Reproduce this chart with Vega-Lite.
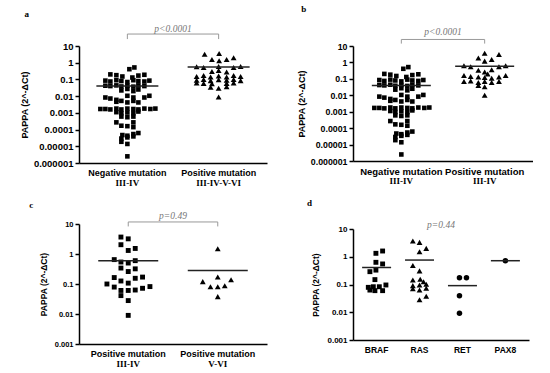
{
  "$schema": "https://vega.github.io/schema/vega-lite/v6.json",
  "background": "white",
  "padding": {"left": 20, "top": 4, "right": 0, "bottom": 0},
  "config": {
    "view": {"stroke": null},
    "axis": {"grid": false, "domainColor": "#000", "domainWidth": 1.5, "tickColor": "#000", "tickWidth": 1.5, "labelFont": "Liberation Sans", "labelFontWeight": "bold", "labelColor": "#000", "titleFont": "Liberation Sans", "titleFontWeight": "bold", "titleColor": "#000", "labelOverlap": false},
    "title": {"font": "Liberation Serif", "fontWeight": "bold", "fontSize": 9, "anchor": "start", "color": "#000"}
  },
  "datasets": {
    "neg": [
      {"g":"g1","j":2,"v":0.41},{"g":"g1","j":7,"v":0.52},
      {"g":"g1","j":-17,"v":0.2},{"g":"g1","j":-11,"v":0.18},{"g":"g1","j":-5,"v":0.15},{"g":"g1","j":5,"v":0.13},{"g":"g1","j":11,"v":0.17},{"g":"g1","j":17,"v":0.19},
      {"g":"g1","j":-22,"v":0.085},{"g":"g1","j":-17,"v":0.075},{"g":"g1","j":-11,"v":0.09},{"g":"g1","j":-6,"v":0.08},{"g":"g1","j":0,"v":0.07},{"g":"g1","j":6,"v":0.09},{"g":"g1","j":11,"v":0.08},{"g":"g1","j":17,"v":0.075},{"g":"g1","j":22,"v":0.085},
      {"g":"g1","j":-22,"v":0.042},{"g":"g1","j":-17,"v":0.04},{"g":"g1","j":-11,"v":0.044},{"g":"g1","j":-6,"v":0.038},{"g":"g1","j":0,"v":0.042},{"g":"g1","j":6,"v":0.037},{"g":"g1","j":11,"v":0.044},{"g":"g1","j":17,"v":0.04},
      {"g":"g1","j":-6,"v":0.022},{"g":"g1","j":0,"v":0.027},{"g":"g1","j":6,"v":0.02},{"g":"g1","j":11,"v":0.025},
      {"g":"g1","j":-22,"v":0.0083},{"g":"g1","j":-17,"v":0.0072},{"g":"g1","j":-11,"v":0.006},{"g":"g1","j":0,"v":0.0105},{"g":"g1","j":6,"v":0.0083},{"g":"g1","j":17,"v":0.0083},{"g":"g1","j":22,"v":0.0105},
      {"g":"g1","j":-11,"v":0.0046},{"g":"g1","j":-6,"v":0.0052},{"g":"g1","j":0,"v":0.0042},{"g":"g1","j":6,"v":0.0052},{"g":"g1","j":11,"v":0.0042},
      {"g":"g1","j":-27,"v":0.0017},{"g":"g1","j":-22,"v":0.0017},{"g":"g1","j":-17,"v":0.0016},{"g":"g1","j":-11,"v":0.0018},{"g":"g1","j":-6,"v":0.0016},{"g":"g1","j":0,"v":0.0018},{"g":"g1","j":6,"v":0.0017},{"g":"g1","j":11,"v":0.0016},{"g":"g1","j":17,"v":0.0018},{"g":"g1","j":23,"v":0.0017},{"g":"g1","j":28,"v":0.0018},
      {"g":"g1","j":-11,"v":0.0011},{"g":"g1","j":-6,"v":0.00095},{"g":"g1","j":0,"v":0.00105},{"g":"g1","j":6,"v":0.00095},{"g":"g1","j":11,"v":0.0012},
      {"g":"g1","j":-6,"v":0.0006},{"g":"g1","j":0,"v":0.00055},{"g":"g1","j":6,"v":0.0006},
      {"g":"g1","j":-11,"v":0.00027},{"g":"g1","j":6,"v":0.00027},
      {"g":"g1","j":-6,"v":0.00017},{"g":"g1","j":0,"v":0.00016},{"g":"g1","j":6,"v":0.00014},
      {"g":"g1","j":-5,"v":0.000047},{"g":"g1","j":0,"v":0.000043},{"g":"g1","j":6,"v":0.000054},{"g":"g1","j":11,"v":0.000062},
      {"g":"g1","j":-6,"v":0.000029},{"g":"g1","j":0,"v":0.000034},{"g":"g1","j":6,"v":0.000039},
      {"g":"g1","j":-6,"v":0.0000186},{"g":"g1","j":0,"v":0.0000138},
      {"g":"g1","j":0,"v":0.0000025}
    ],
    "apos": [
      {"g":"g2","j":-14,"v":3.2},{"g":"g2","j":0.5,"v":3.6},{"g":"g2","j":-6.7,"v":1.55},{"g":"g2","j":0.5,"v":1.3},{"g":"g2","j":8,"v":1.55},{"g":"g2","j":15,"v":2.0},
      {"g":"g2","j":-22,"v":0.58},{"g":"g2","j":-15,"v":0.52},{"g":"g2","j":0,"v":0.6},{"g":"g2","j":15,"v":0.52},{"g":"g2","j":22,"v":0.6},
      {"g":"g2","j":-6.7,"v":0.3},{"g":"g2","j":0,"v":0.34},{"g":"g2","j":8,"v":0.28},
      {"g":"g2","j":-22,"v":0.15},{"g":"g2","j":-15,"v":0.17},{"g":"g2","j":-8,"v":0.14},{"g":"g2","j":0,"v":0.16},{"g":"g2","j":8,"v":0.14},{"g":"g2","j":15,"v":0.17},{"g":"g2","j":22,"v":0.15},
      {"g":"g2","j":-22,"v":0.09},{"g":"g2","j":-15,"v":0.1},{"g":"g2","j":-8,"v":0.085},{"g":"g2","j":0,"v":0.095},{"g":"g2","j":8,"v":0.09},{"g":"g2","j":15,"v":0.1},{"g":"g2","j":22,"v":0.085},
      {"g":"g2","j":-22,"v":0.062},{"g":"g2","j":-15,"v":0.058},{"g":"g2","j":-6.7,"v":0.055},{"g":"g2","j":8,"v":0.058},{"g":"g2","j":15,"v":0.062},
      {"g":"g2","j":-8,"v":0.034},{"g":"g2","j":0,"v":0.03},{"g":"g2","j":8,"v":0.036},
      {"g":"g2","j":0,"v":0.009}
    ],
    "bpos": [
      {"g":"g2","j":0,"v":3.6},{"g":"g2","j":14.3,"v":3.0},
      {"g":"g2","j":-6.3,"v":1.85},{"g":"g2","j":0,"v":1.2},{"g":"g2","j":7,"v":1.5},
      {"g":"g2","j":-20.7,"v":0.62},{"g":"g2","j":-14,"v":0.55},{"g":"g2","j":14.3,"v":0.55},{"g":"g2","j":21,"v":0.62},
      {"g":"g2","j":-6.3,"v":0.33},{"g":"g2","j":0,"v":0.26},{"g":"g2","j":7,"v":0.36},{"g":"g2","j":3,"v":0.2},
      {"g":"g2","j":-20.7,"v":0.16},{"g":"g2","j":-14,"v":0.14},{"g":"g2","j":-6.3,"v":0.13},{"g":"g2","j":0,"v":0.12},{"g":"g2","j":7,"v":0.11},{"g":"g2","j":14.3,"v":0.13},{"g":"g2","j":21,"v":0.16},
      {"g":"g2","j":-20.7,"v":0.07},{"g":"g2","j":-14,"v":0.075},{"g":"g2","j":-6.3,"v":0.06},{"g":"g2","j":0,"v":0.07},{"g":"g2","j":7,"v":0.06},{"g":"g2","j":14.3,"v":0.07},
      {"g":"g2","j":-6.3,"v":0.04},{"g":"g2","j":0,"v":0.033},
      {"g":"g2","j":0,"v":0.01}
    ],
    "cneg": [
      {"g":"g1","j":-7.3,"v":3.67},{"g":"g1","j":0,"v":3.2},{"g":"g1","j":-7.3,"v":2.04},{"g":"g1","j":0,"v":1.31},{"g":"g1","j":7,"v":1.53},
      {"g":"g1","j":-14,"v":0.65},{"g":"g1","j":-7.3,"v":0.54},{"g":"g1","j":0,"v":0.5},{"g":"g1","j":7,"v":0.6},
      {"g":"g1","j":-7.3,"v":0.34},{"g":"g1","j":0,"v":0.26},{"g":"g1","j":7,"v":0.32},
      {"g":"g1","j":-14,"v":0.164},{"g":"g1","j":-7.3,"v":0.126},{"g":"g1","j":0,"v":0.107},{"g":"g1","j":7,"v":0.155},{"g":"g1","j":14.3,"v":0.17},
      {"g":"g1","j":-21.3,"v":0.1},{"g":"g1","j":-14,"v":0.079},{"g":"g1","j":-7.3,"v":0.061},{"g":"g1","j":0,"v":0.061},{"g":"g1","j":7,"v":0.063},{"g":"g1","j":14.3,"v":0.072},{"g":"g1","j":21.7,"v":0.082},
      {"g":"g1","j":-7.3,"v":0.041},{"g":"g1","j":0,"v":0.028},{"g":"g1","j":0,"v":0.009}
    ],
    "cpos": [
      {"g":"g2","j":0,"v":1.49},{"g":"g2","j":-15,"v":0.12},{"g":"g2","j":0,"v":0.17},{"g":"g2","j":13.3,"v":0.138},
      {"g":"g2","j":-7.3,"v":0.081},{"g":"g2","j":0,"v":0.081},{"g":"g2","j":7,"v":0.087},{"g":"g2","j":0,"v":0.038}
    ],
    "dbraf": [
      {"g":"BRAF","j":-0.7,"v":1.33},{"g":"BRAF","j":6,"v":1.61},{"g":"BRAF","j":-0.7,"v":0.63},{"g":"BRAF","j":6,"v":0.55},{"g":"BRAF","j":-6.7,"v":0.29},{"g":"BRAF","j":-0.7,"v":0.33},{"g":"BRAF","j":-1.7,"v":0.15},
      {"g":"BRAF","j":-8.3,"v":0.079},{"g":"BRAF","j":-3.3,"v":0.083},{"g":"BRAF","j":2.7,"v":0.083},{"g":"BRAF","j":9.3,"v":0.096},{"g":"BRAF","j":-6.7,"v":0.063},{"g":"BRAF","j":-1.7,"v":0.06},{"g":"BRAF","j":6,"v":0.06}
    ],
    "dras": [
      {"g":"RAS","j":-6.7,"v":3.7},{"g":"RAS","j":0,"v":3.3},{"g":"RAS","j":6.7,"v":2.0},{"g":"RAS","j":0,"v":1.52},{"g":"RAS","j":-6.7,"v":0.48},{"g":"RAS","j":0,"v":0.31},
      {"g":"RAS","j":-6.7,"v":0.145},{"g":"RAS","j":0.7,"v":0.154},{"g":"RAS","j":4,"v":0.126},{"g":"RAS","j":6.7,"v":0.102},{"g":"RAS","j":-6.7,"v":0.091},{"g":"RAS","j":0,"v":0.096},
      {"g":"RAS","j":-6.7,"v":0.07},{"g":"RAS","j":0,"v":0.063},{"g":"RAS","j":6.7,"v":0.073},{"g":"RAS","j":6.7,"v":0.038},{"g":"RAS","j":0,"v":0.028}
    ],
    "dcirc": [
      {"g":"RET","j":-3,"v":0.176},{"g":"RET","j":4,"v":0.176},{"g":"RET","j":-3,"v":0.039},{"g":"RET","j":-3,"v":0.0092},
      {"g":"PAX8","j":0,"v":0.72}
    ]
  },
  "spacing": 30,
  "resolve": {"scale": {"xOffset": "independent"}},
  "hconcat": [
    {
      "spacing": 13,
      "resolve": {"scale": {"xOffset": "independent"}},
      "vconcat": [
        {
          "width": 188, "height": 117,
          "title": {"text": "a", "dx": 4, "offset": 5},
          "resolve": {"axis": {"x": "independent"}},
          "layer": [
            {
              "data": {"name": "neg"},
              "mark": {"type": "point", "shape": "square", "filled": true, "color": "#000", "opacity": 1, "size": 21},
              "encoding": {
                "x": {"field": "g", "type": "nominal", "scale": {"type": "band", "domain": ["g1", "g2"], "paddingInner": 0, "paddingOuter": 0.03},
                  "axis": {"orient": "bottom", "title": null, "ticks": false, "labelAngle": 0, "labelPadding": 5, "labelFontSize": 9, "labelExpr": "datum.value == 'g1' ? 'Negative mutation' : 'Positive mutation'"}},
                "xOffset": {"field": "j", "type": "quantitative", "scale": {"domain": [-45.63, 45.63], "range": [0, 91.26], "nice": false}},
                "y": {"field": "v", "type": "quantitative", "scale": {"type": "log", "domain": [0.000001, 10], "nice": false},
                  "axis": {"title": "PAPPA (2^-ΔCt)", "values": [10, 1, 0.1, 0.01, 0.001, 0.0001, 0.00001, 0.000001], "format": "~f", "tickSize": 4, "labelPadding": 2, "labelFontSize": 9.5, "titleFontSize": 9, "titlePadding": 4}}
              }
            },
            {
              "data": {"name": "apos"},
              "mark": {"type": "point", "shape": "triangle-up", "filled": true, "color": "#000", "opacity": 1, "size": 34},
              "encoding": {
                "x": {"field": "g", "type": "nominal", "axis": null},
                "xOffset": {"field": "j", "type": "quantitative"},
                "y": {"field": "v", "type": "quantitative"}
              }
            },
            {
              "data": {"values": [{"g": "g1", "v": 0.041}, {"g": "g2", "v": 0.55}]},
              "mark": {"type": "tick", "size": 62, "thickness": 1.5, "color": "#222", "opacity": 1},
              "encoding": {
                "x": {"field": "g", "type": "nominal", "axis": {"orient": "bottom", "title": null, "domain": false, "ticks": false, "labelAngle": 0, "offset": 10, "labelPadding": 5, "labelFont": "Liberation Serif", "labelFontSize": 9, "labelExpr": "datum.value == 'g1' ? 'III-IV' : 'III-IV-V-VI'"}},
                "y": {"field": "v", "type": "quantitative"}
              }
            },
            {
              "data": {"values": [{"a": "g1", "b": "g2", "v": 52}]},
              "mark": {"type": "rule", "color": "#999", "strokeWidth": 1},
              "encoding": {"x": {"field": "a", "type": "nominal", "axis": null}, "x2": {"field": "b"}, "y": {"field": "v", "type": "quantitative"}}
            },
            {
              "data": {"values": [{"g": "g1", "v": 52, "v2": 26}, {"g": "g2", "v": 52, "v2": 26}]},
              "mark": {"type": "rule", "color": "#999", "strokeWidth": 1},
              "encoding": {"x": {"field": "g", "type": "nominal", "axis": null}, "y": {"field": "v", "type": "quantitative"}, "y2": {"field": "v2"}}
            },
            {
              "data": {"values": [{"g": "g1", "v": 68, "t": "p<0.0001"}]},
              "mark": {"type": "text", "font": "Liberation Serif", "fontStyle": "italic", "fontSize": 9.5, "color": "#777", "baseline": "alphabetic"},
              "encoding": {"x": {"field": "g", "type": "nominal", "bandPosition": 1, "axis": null}, "y": {"field": "v", "type": "quantitative"}, "text": {"field": "t"}}
            }
          ]
        },
        {
          "width": 188, "height": 120,
          "title": {"text": "c", "dx": -10, "offset": 1},
          "resolve": {"axis": {"x": "independent"}},
          "layer": [
            {
              "data": {"name": "cneg"},
              "mark": {"type": "point", "shape": "square", "filled": true, "color": "#000", "opacity": 1, "size": 24},
              "encoding": {
                "x": {"field": "g", "type": "nominal", "scale": {"type": "band", "domain": ["g1", "g2"], "paddingInner": 0, "paddingOuter": 0.05},
                  "axis": {"orient": "bottom", "title": null, "ticks": false, "labelAngle": 0, "labelPadding": 5, "labelFontSize": 9, "labelExpr": "'Positive mutation'"}},
                "xOffset": {"field": "j", "type": "quantitative", "scale": {"domain": [-44.76, 44.76], "range": [0, 89.52], "nice": false}},
                "y": {"field": "v", "type": "quantitative", "scale": {"type": "log", "domain": [0.001, 10], "nice": false},
                  "axis": {"title": "PAPPA (2^-ΔCt)", "values": [10, 1, 0.1, 0.01, 0.001], "format": "~f", "tickSize": 4, "labelPadding": 2, "labelFontSize": 7.5, "titleFontSize": 8.5, "titlePadding": 6}}
              }
            },
            {
              "data": {"name": "cpos"},
              "mark": {"type": "point", "shape": "triangle-up", "filled": true, "color": "#000", "opacity": 1, "size": 34},
              "encoding": {
                "x": {"field": "g", "type": "nominal", "axis": null},
                "xOffset": {"field": "j", "type": "quantitative"},
                "y": {"field": "v", "type": "quantitative"}
              }
            },
            {
              "data": {"values": [{"g": "g1", "v": 0.6}, {"g": "g2", "v": 0.28}]},
              "mark": {"type": "tick", "size": 60, "thickness": 1.5, "color": "#222", "opacity": 1},
              "encoding": {
                "x": {"field": "g", "type": "nominal", "axis": {"orient": "bottom", "title": null, "domain": false, "ticks": false, "labelAngle": 0, "offset": 10, "labelPadding": 5, "labelFont": "Liberation Serif", "labelFontSize": 9, "labelExpr": "datum.value == 'g1' ? 'III-IV' : 'V-VI'"}},
                "y": {"field": "v", "type": "quantitative"}
              }
            },
            {
              "data": {"values": [{"a": "g1", "b": "g2", "v": 11.7}]},
              "mark": {"type": "rule", "color": "#999", "strokeWidth": 1},
              "encoding": {"x": {"field": "a", "type": "nominal", "axis": null}, "x2": {"field": "b"}, "y": {"field": "v", "type": "quantitative"}}
            },
            {
              "data": {"values": [{"g": "g1", "v": 11.7, "v2": 8.3}, {"g": "g2", "v": 11.7, "v2": 8.3}]},
              "mark": {"type": "rule", "color": "#999", "strokeWidth": 1},
              "encoding": {"x": {"field": "g", "type": "nominal", "axis": null}, "y": {"field": "v", "type": "quantitative"}, "y2": {"field": "v2"}}
            },
            {
              "data": {"values": [{"g": "g1", "v": 15, "t": "p=0.49"}]},
              "mark": {"type": "text", "font": "Liberation Serif", "fontStyle": "italic", "fontSize": 9.5, "color": "#777", "baseline": "alphabetic"},
              "encoding": {"x": {"field": "g", "type": "nominal", "bandPosition": 1, "axis": null}, "y": {"field": "v", "type": "quantitative"}, "text": {"field": "t"}}
            }
          ]
        }
      ]
    },
    {
      "spacing": 13,
      "resolve": {"scale": {"xOffset": "independent"}},
      "vconcat": [
        {
          "width": 180, "height": 115,
          "title": {"text": "b", "dx": 4, "offset": 13},
          "resolve": {"axis": {"x": "independent"}},
          "layer": [
            {
              "data": {"name": "neg"},
              "mark": {"type": "point", "shape": "square", "filled": true, "color": "#000", "opacity": 1, "size": 21},
              "encoding": {
                "x": {"field": "g", "type": "nominal", "scale": {"type": "band", "domain": ["g1", "g2"], "paddingInner": 0, "paddingOuter": 0.08},
                  "axis": {"orient": "bottom", "title": null, "ticks": false, "labelAngle": 0, "labelPadding": 5, "labelFontSize": 9.5, "labelExpr": "datum.value == 'g1' ? 'Negative mutation' : 'Positive mutation'"}},
                "xOffset": {"field": "j", "type": "quantitative", "scale": {"domain": [-41.67, 41.67], "range": [0, 83.33], "nice": false}},
                "y": {"field": "v", "type": "quantitative", "scale": {"type": "log", "domain": [0.000001, 10], "nice": false},
                  "axis": {"title": "PAPPA (2^-ΔCt)", "values": [10, 1, 0.1, 0.01, 0.001, 0.0001, 0.00001, 0.000001], "format": "~f", "tickSize": 4, "labelPadding": 2, "labelFontSize": 8.8, "titleFontSize": 9, "titlePadding": 4}}
              }
            },
            {
              "data": {"name": "bpos"},
              "mark": {"type": "point", "shape": "triangle-up", "filled": true, "color": "#000", "opacity": 1, "size": 34},
              "encoding": {
                "x": {"field": "g", "type": "nominal", "axis": null},
                "xOffset": {"field": "j", "type": "quantitative"},
                "y": {"field": "v", "type": "quantitative"}
              }
            },
            {
              "data": {"values": [{"g": "g1", "v": 0.04}, {"g": "g2", "v": 0.58}]},
              "mark": {"type": "tick", "size": 59, "thickness": 1.5, "color": "#222", "opacity": 1},
              "encoding": {
                "x": {"field": "g", "type": "nominal", "axis": {"orient": "bottom", "title": null, "domain": false, "ticks": false, "labelAngle": 0, "offset": 10, "labelPadding": 5, "labelFont": "Liberation Serif", "labelFontSize": 9, "labelExpr": "'III-IV'"}},
                "y": {"field": "v", "type": "quantitative"}
              }
            },
            {
              "data": {"values": [{"a": "g1", "b": "g2", "v": 25}]},
              "mark": {"type": "rule", "color": "#999", "strokeWidth": 1},
              "encoding": {"x": {"field": "a", "type": "nominal", "axis": null}, "x2": {"field": "b"}, "y": {"field": "v", "type": "quantitative"}}
            },
            {
              "data": {"values": [{"g": "g1", "v": 25, "v2": 14}, {"g": "g2", "v": 25, "v2": 14}]},
              "mark": {"type": "rule", "color": "#999", "strokeWidth": 1},
              "encoding": {"x": {"field": "g", "type": "nominal", "axis": null}, "y": {"field": "v", "type": "quantitative"}, "y2": {"field": "v2"}}
            },
            {
              "data": {"values": [{"g": "g1", "v": 49, "t": "p<0.0001"}]},
              "mark": {"type": "text", "font": "Liberation Serif", "fontStyle": "italic", "fontSize": 9.5, "color": "#777", "baseline": "alphabetic"},
              "encoding": {"x": {"field": "g", "type": "nominal", "bandPosition": 1, "axis": null}, "y": {"field": "v", "type": "quantitative"}, "text": {"field": "t"}}
            }
          ]
        },
        {
          "width": 176, "height": 111,
          "title": {"text": "d", "dx": -5, "offset": 12},
          "resolve": {"axis": {"x": "independent"}},
          "layer": [
            {
              "data": {"name": "dbraf"},
              "mark": {"type": "point", "shape": "square", "filled": true, "color": "#000", "opacity": 1, "size": 24},
              "encoding": {
                "x": {"field": "g", "type": "nominal", "scale": {"type": "band", "domain": ["BRAF", "RAS", "RET", "PAX8"], "paddingInner": 0, "paddingOuter": 0.05},
                  "axis": {"orient": "bottom", "title": null, "ticks": false, "labelAngle": 0, "labelPadding": 5, "labelFontSize": 8.5}},
                "xOffset": {"field": "j", "type": "quantitative", "scale": {"domain": [-21.46, 21.46], "range": [0, 42.93], "nice": false}},
                "y": {"field": "v", "type": "quantitative", "scale": {"type": "log", "domain": [0.001, 10], "nice": false},
                  "axis": {"title": "PAPPA (2^-ΔCt)", "values": [10, 1, 0.1, 0.01, 0.001], "format": "~f", "tickSize": 4, "labelPadding": 2, "labelFontSize": 8, "titleFontSize": 8.5, "titlePadding": 6}}
              }
            },
            {
              "data": {"name": "dras"},
              "mark": {"type": "point", "shape": "triangle-up", "filled": true, "color": "#000", "opacity": 1, "size": 34},
              "encoding": {
                "x": {"field": "g", "type": "nominal", "axis": null},
                "xOffset": {"field": "j", "type": "quantitative"},
                "y": {"field": "v", "type": "quantitative"}
              }
            },
            {
              "data": {"name": "dcirc"},
              "mark": {"type": "point", "shape": "circle", "filled": true, "color": "#000", "opacity": 1, "size": 30},
              "encoding": {
                "x": {"field": "g", "type": "nominal", "axis": null},
                "xOffset": {"field": "j", "type": "quantitative"},
                "y": {"field": "v", "type": "quantitative"}
              }
            },
            {
              "data": {"values": [{"g": "BRAF", "v": 0.41}, {"g": "RAS", "v": 0.76}, {"g": "RET", "v": 0.091}, {"g": "PAX8", "v": 0.72}]},
              "mark": {"type": "tick", "size": 29, "thickness": 1.5, "color": "#222", "opacity": 1},
              "encoding": {
                "x": {"field": "g", "type": "nominal", "axis": null},
                "y": {"field": "v", "type": "quantitative"}
              }
            },
            {
              "data": {"values": [{"g": "RAS", "v": 11, "t": "p=0.44"}]},
              "mark": {"type": "text", "font": "Liberation Serif", "fontStyle": "italic", "fontSize": 9.5, "color": "#777", "baseline": "alphabetic"},
              "encoding": {"x": {"field": "g", "type": "nominal", "bandPosition": 1, "axis": null}, "y": {"field": "v", "type": "quantitative"}, "text": {"field": "t"}}
            }
          ]
        }
      ]
    }
  ]
}
